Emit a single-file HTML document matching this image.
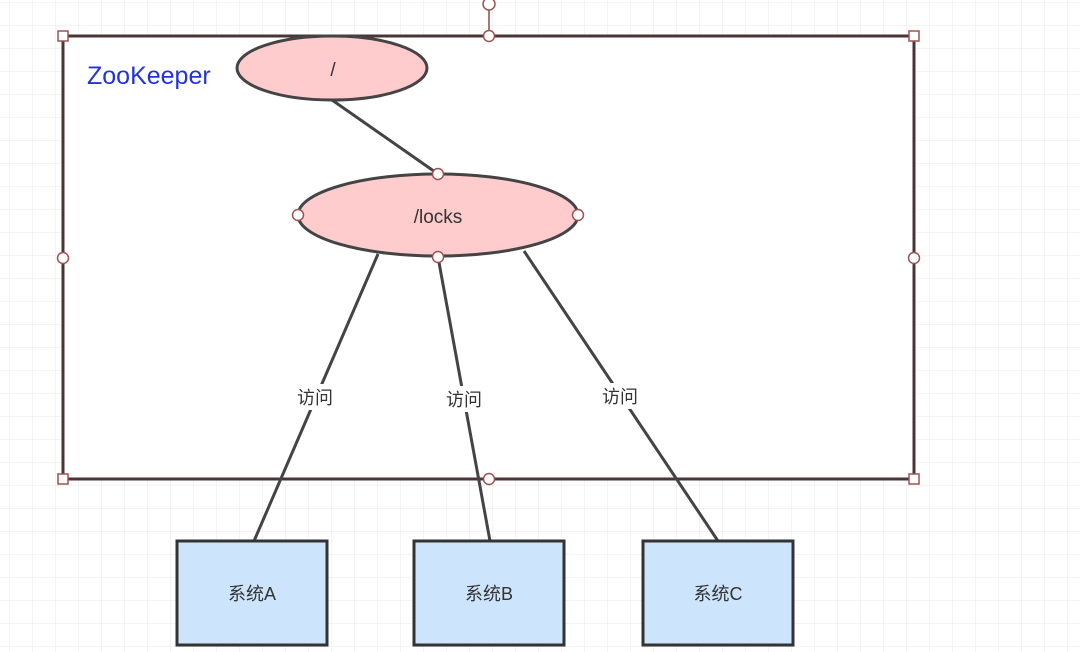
<!DOCTYPE html>
<html><head><meta charset="utf-8"><style>
html,body{margin:0;padding:0;background:#fff;}
svg{display:block;}
text{font-family:"Liberation Sans","Noto Sans CJK SC",sans-serif;fill:#333;}
</style></head><body>
<svg width="1080" height="652" viewBox="0 0 1080 652" xmlns="http://www.w3.org/2000/svg">
<defs>
<pattern id="g" width="23" height="23" patternUnits="userSpaceOnUse" x="10" y="3">
<path d="M23 0V23M0 23H23" fill="none" stroke="#e8e8e8" stroke-width="1"/>
</pattern>
</defs>
<rect width="1080" height="652" fill="url(#g)"/>
<rect x="63" y="36" width="851" height="443" fill="#fff" stroke="#4a3434" stroke-width="3"/>
<line x1="489" y1="5" x2="489" y2="36" stroke="#8b4a4a" stroke-width="1.5"/>
<circle cx="489" cy="4" r="6" fill="#fff" stroke="#a05050" stroke-width="1.5"/>
<text x="87" y="84" font-size="25" style="fill:#2233dd">ZooKeeper</text>
<g stroke="#444" stroke-width="3">
<line x1="332" y1="100" x2="438" y2="174"/>
<line x1="378" y1="254" x2="254" y2="541"/>
<line x1="438" y1="257" x2="490" y2="541"/>
<line x1="524" y1="251" x2="718" y2="541"/>
</g>
<ellipse cx="332" cy="68" rx="95" ry="32" fill="#fecccc" stroke="#444" stroke-width="3"/>
<text x="333" y="76" font-size="19" text-anchor="middle">/</text>
<ellipse cx="438" cy="215" rx="140" ry="41" fill="#fecccc" stroke="#444" stroke-width="3"/>
<text x="438" y="223" font-size="19" text-anchor="middle">/locks</text>
<g fill="#fff">
<rect x="294" y="384" width="42" height="26"/>
<rect x="443" y="386" width="42" height="26"/>
<rect x="599" y="383" width="42" height="26"/>
</g>
<text x="315" y="404" font-size="18" text-anchor="middle">访问</text>
<text x="464" y="406" font-size="18" text-anchor="middle">访问</text>
<text x="620" y="403" font-size="18" text-anchor="middle">访问</text>
<g fill="#cce5fc" stroke="#333" stroke-width="3">
<rect x="177" y="541" width="150" height="104"/>
<rect x="414" y="541" width="150" height="104"/>
<rect x="643" y="541" width="150" height="104"/>
</g>
<text x="252" y="600" font-size="18" text-anchor="middle">系统A</text>
<text x="489" y="600" font-size="18" text-anchor="middle">系统B</text>
<text x="718" y="600" font-size="18" text-anchor="middle">系统C</text>
<g fill="#fff" stroke="#a05050" stroke-width="1.5">
<rect x="58" y="31" width="10" height="10"/>
<rect x="909" y="31" width="10" height="10"/>
<rect x="58" y="474" width="10" height="10"/>
<rect x="909" y="474" width="10" height="10"/>
<circle cx="489" cy="36" r="5.5"/>
<circle cx="489" cy="479" r="5.5"/>
<circle cx="63" cy="258" r="5.5"/>
<circle cx="914" cy="258" r="5.5"/>
<circle cx="438" cy="174" r="5.5"/>
<circle cx="438" cy="257" r="5.5"/>
<circle cx="298" cy="215" r="5.5"/>
<circle cx="578" cy="215" r="5.5"/>
</g>
</svg>
</body></html>
